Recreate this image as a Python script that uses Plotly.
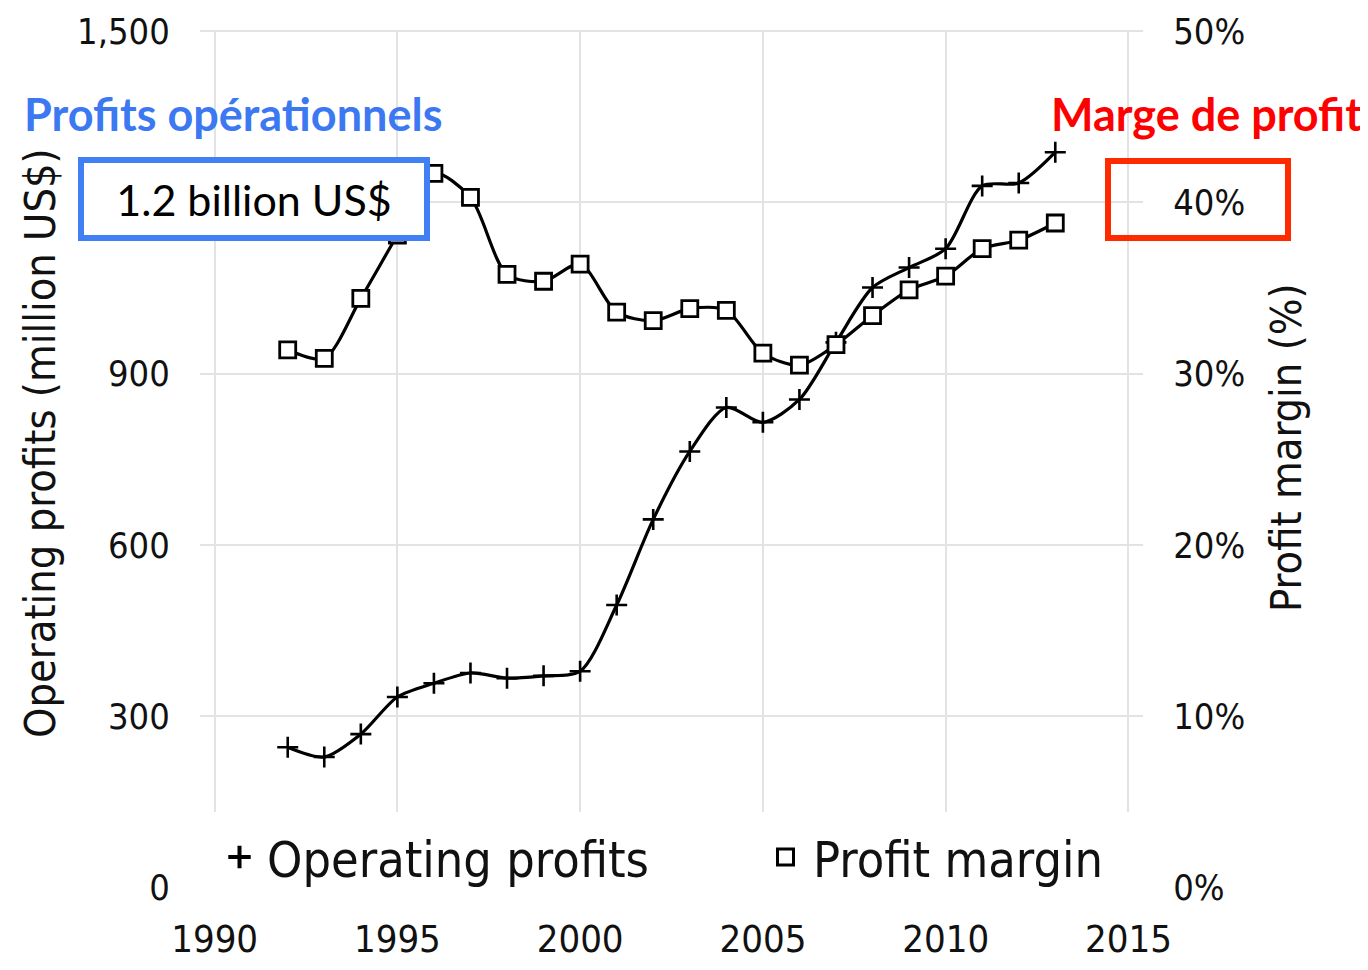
import plotly.graph_objects as go

years = list(range(1992, 2014))
operating_profits = [246, 229, 269, 334, 358, 376, 367, 371, 379, 495, 645, 764,
                     841, 815, 855, 955, 1051, 1086, 1119, 1229, 1234, 1288]
profit_margin = [31.4, 30.9, 34.4, 38.1, 41.7, 40.3, 35.8, 35.4, 36.4, 33.6, 33.1, 33.8,
                 33.7, 31.2, 30.5, 31.7, 33.4, 34.9, 35.7, 37.3, 37.8, 38.8]

x_ticks = [1990, 1995, 2000, 2005, 2010, 2015]
y_ticks = [0, 300, 600, 900, 1200, 1500]
y_ticktext = ["0", "300", "600", "900", "", "1,500"]  # 1,200 is hidden behind the box
y2_ticks = [0, 10, 20, 30, 40, 50]
y2_ticktext = ["0%", "10%", "20%", "30%", "40%", "50%"]

NARROW = "DejaVu Sans Condensed, Liberation Sans Narrow, Liberation Sans, sans-serif"
CAL = "Lato, Open Sans, sans-serif"
TXT = "#111111"
GRID = "#e3e3e3"

OFF = 8  # default page body margin
W, H = 1368 - OFF, 970 - OFF
# plot area in page pixels: x 200..1143, y 30..902
ML, MT = 200 - OFF, 30 - OFF
MR, MB = W - (1143 - OFF), H - (902 - OFF)
PW, PH = W - ML - MR, H - MT - MB

XR = [1989.6, 2015.4]
ymin, ymax = -25, 1502


def px(xp):  # page pixel -> paper x
    return (xp - OFF - ML) / PW


def py(yp):  # page pixel -> paper y
    return (H - MB - (yp - OFF)) / PH


def ydata(yp):  # page pixel -> left-axis data value
    return ymin + py(yp) * (ymax - ymin)


fig = go.Figure()

fig.add_trace(go.Scatter(
    x=years, y=operating_profits, mode="lines+markers", yaxis="y",
    line=dict(color="black", width=3.2, shape="spline", smoothing=0.8),
    marker=dict(symbol="cross-thin", size=15, line=dict(color="black", width=2.6)),
    showlegend=False, name="Operating profits"))

fig.add_trace(go.Scatter(
    x=years, y=profit_margin, mode="lines+markers", yaxis="y2",
    line=dict(color="black", width=3.2, shape="spline", smoothing=0.8),
    marker=dict(symbol="square", size=16, color="white", line=dict(color="black", width=2.8)),
    showlegend=False, name="Profit margin"))

# legend-only entries (marker only, as in the reference)
fig.add_trace(go.Scatter(
    x=[None], y=[None], mode="markers", name="Operating profits", legend="legend",
    marker=dict(symbol="cross-thin", size=16, line=dict(color="black", width=4))))
fig.add_trace(go.Scatter(
    x=[None], y=[None], mode="markers", name="Profit margin", yaxis="y2", legend="legend2",
    marker=dict(symbol="square", size=16, color="white", line=dict(color="black", width=3))))

legend_common = dict(orientation="h", xref="container", yref="container",
                     xanchor="left", yanchor="top", y=1 - (818 - OFF) / H,
                     bgcolor="rgba(0,0,0,0)", borderwidth=0, itemwidth=45,
                     font=dict(family=NARROW, size=50, color=TXT), itemsizing="trace")

fig.update_layout(
    width=W, height=H,
    margin=dict(l=ML, r=MR, t=MT, b=MB, autoexpand=False),
    paper_bgcolor="white", plot_bgcolor="white",
    font=dict(family=NARROW, color=TXT),
    xaxis=dict(range=XR, tickvals=x_ticks, showgrid=True, gridcolor=GRID,
               gridwidth=1.5, zeroline=False, showline=False, automargin=False,
               ticks="outside", ticklen=3, tickcolor="rgba(0,0,0,0)",
               tickfont=dict(family=NARROW, size=38, color=TXT)),
    yaxis=dict(range=[ymin, ymax], tickvals=y_ticks, ticktext=y_ticktext,
               showgrid=True, gridcolor=GRID, gridwidth=1.5, zeroline=False, showline=False,
               automargin=False,
               ticks="outside", ticklen=22, tickcolor="rgba(0,0,0,0)",
               tickfont=dict(family=NARROW, size=36, color=TXT)),
    yaxis2=dict(range=[ymin / 30, ymax / 30], tickvals=y2_ticks, ticktext=y2_ticktext,
                overlaying="y", side="right", showgrid=False, zeroline=False, showline=False,
                automargin=False,
                ticks="outside", ticklen=22, tickcolor="rgba(0,0,0,0)",
                tickfont=dict(family=NARROW, size=36, color=TXT)),
    legend=dict(legend_common, x=(212 - OFF) / W),
    legend2=dict(legend_common, x=(758 - OFF) / W),
    shapes=[
        # white band behind the legend (covers grid lines, drawn under the data)
        dict(type="rect", xref="x", yref="y", x0=XR[0] - 1, x1=XR[1] + 1,
             y0=ydata(902), y1=ydata(812),
             fillcolor="white", line=dict(width=0), layer="between"),
        # red box around the 40% label
        dict(type="rect", xref="paper", yref="paper",
             x0=px(1108), x1=px(1288), y0=py(238), y1=py(161),
             fillcolor="rgba(0,0,0,0)", line=dict(color="#ff2a00", width=6), layer="above"),
    ],
    annotations=[
        # axis titles
        dict(text="Operating profits (million US$)", xref="paper", yref="paper",
             x=px(40), y=py(443), xanchor="center", yanchor="middle", textangle=-90,
             showarrow=False, font=dict(family=NARROW, size=43, color=TXT)),
        dict(text="Profit margin (%)", xref="paper", yref="paper",
             x=px(1286), y=py(448), xanchor="center", yanchor="middle", textangle=-90,
             showarrow=False, font=dict(family=NARROW, size=43, color=TXT)),
        # coloured labels
        dict(text="<b>Profits opérationnels</b>", xref="paper", yref="paper",
             x=px(22), y=py(114), xanchor="left", yanchor="middle",
             showarrow=False, font=dict(family=CAL, size=45, color="#3b78f2")),
        dict(text="<b>Marge de profit</b>", xref="paper", yref="paper",
             x=px(1364), y=py(114), xanchor="right", yanchor="middle",
             showarrow=False, font=dict(family=CAL, size=45, color="#ff0000")),
        dict(text="1.2 billion US$", xref="paper", yref="paper",
             x=px(254), y=py(199), xanchor="center", yanchor="middle",
             width=340, height=72, align="center", valign="middle",
             bgcolor="white", bordercolor="#4080f4", borderwidth=6, borderpad=0,
             showarrow=False, font=dict(family=CAL, size=43, color="black")),
    ],
)

fig.write_html("out.html")
